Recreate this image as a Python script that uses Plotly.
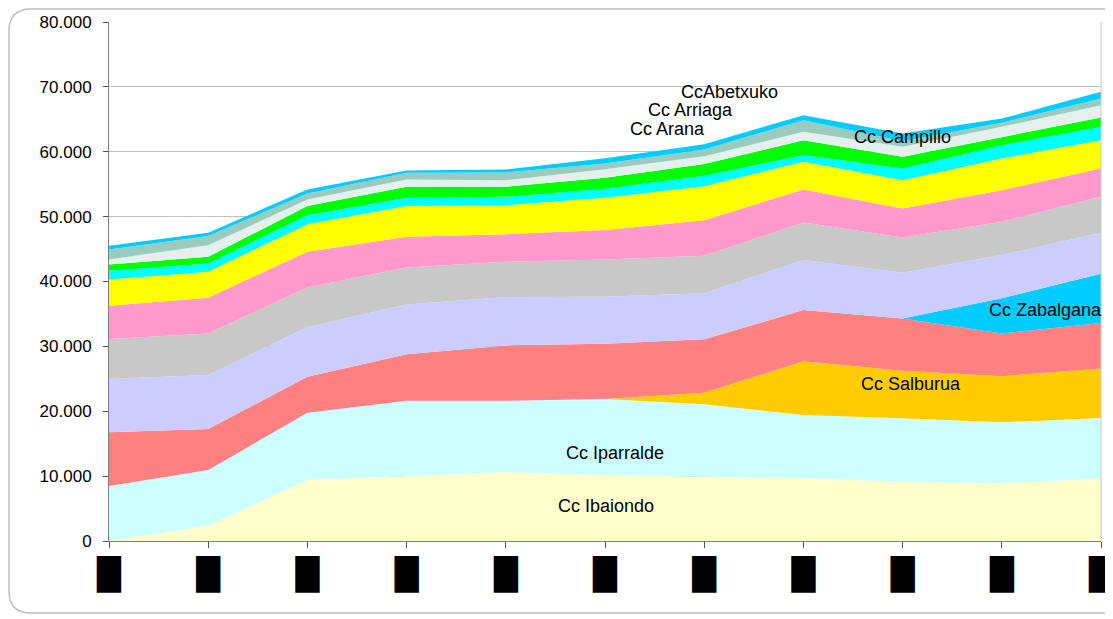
import plotly.graph_objects as go

# x categories (labels in the source are unreadable black blocks)
x_idx = list(range(11))
x_labels = ["█"] * 11

# series values (bottom to top of the stack)
ibaiondo  = [0, 2360, 9400, 10020, 10590, 10170, 9910, 9660, 9140, 8900, 9600]
iparralde = [8475, 8580, 10370, 11600, 11030, 11710, 11150, 9750, 9770, 9400, 9350]
salburua  = [0, 0, 0, 0, 0, 0, 1790, 8280, 7330, 7100, 7650]
rojo      = [8275, 6320, 5550, 7150, 8530, 8520, 8230, 7900, 8060, 6600, 7000]
zabalgana = [0, 0, 0, 0, 0, 0, 0, 0, 0, 5400, 7600]
lila      = [8210, 8320, 7610, 7700, 7450, 7240, 7090, 7710, 7040, 6670, 6300]
gris      = [6160, 6420, 6160, 5700, 5440, 5760, 5790, 5800, 5450, 5130, 5550]
rosa      = [5140, 5490, 5490, 4720, 4260, 4520, 5500, 5090, 4470, 4880, 4380]
amarillo  = [4060, 4010, 4260, 4730, 4470, 4980, 5240, 4250, 4360, 4890, 4360]
cian      = [1330, 1290, 1390, 1280, 1280, 1400, 1600, 1040, 1800, 2050, 2050]
verde     = [980, 1020, 1390, 1700, 1550, 1700, 1800, 2310, 1800, 1180, 1450]
campillo  = [770, 1790, 1030, 1130, 1020, 1300, 1220, 1280, 1540, 1640, 1890]
arana     = [1550, 1400, 920, 1020, 1190, 900, 1030, 1800, 840, 620, 1040]
abetxuko  = [550, 500, 620, 370, 460, 800, 820, 770, 1200, 660, 1030]

y_ticks = [0, 10000, 20000, 30000, 40000, 50000, 60000, 70000, 80000]
y_tick_text = ["0", "10.000", "20.000", "30.000", "40.000", "50.000", "60.000", "70.000", "80.000"]

series = [
    ("Cc Ibaiondo", ibaiondo, "#FFFFCC"),
    ("Cc Iparralde", iparralde, "#CCFFFF"),
    ("Cc Salburua", salburua, "#FFCC00"),
    ("Serie 4", rojo, "#FF8080"),
    ("Cc Zabalgana", zabalgana, "#00CCFF"),
    ("Serie 6", lila, "#CCCCFF"),
    ("Serie 7", gris, "#C8C8C8"),
    ("Serie 8", rosa, "#FF99CC"),
    ("Serie 9", amarillo, "#FFFF00"),
    ("Serie 10", cian, "#00FFFF"),
    ("Serie 11", verde, "#00FF00"),
    ("Cc Campillo", campillo, "#E4F0EE"),
    ("Cc Arana", arana, "#99CCBF"),
    ("CcAbetxuko", abetxuko, "#00CCFF"),
]

fig = go.Figure()
for name, vals, col in series:
    fig.add_trace(go.Scatter(
        x=x_idx, y=vals, name=name, mode="lines", stackgroup="one",
        line=dict(width=0, color=col), fillcolor=col, hoverinfo="name+y"))

labels = [
    ("CcAbetxuko", 6.25, 69200),
    ("Cc Arriaga", 5.86, 66400),
    ("Cc Arana", 5.63, 63500),
    ("Cc Campillo", 8.0, 62250),
    ("Cc Zabalgana", 9.44, 35600),
    ("Cc Salburua", 8.08, 24200),
    ("Cc Iparralde", 5.1, 13550),
    ("Cc Ibaiondo", 5.01, 5400),
]
for txt, xi, yv in labels:
    fig.add_annotation(x=xi, y=yv, xref="x", yref="y", text=txt, showarrow=False,
                       font=dict(family="Liberation Sans, Arial", size=18, color="#000000"))

# geometry of the plot area inside the figure (figure pixels)
PL, PT, PW, PH = 101, 14, 992, 519

def px(xp):
    return (xp - PL) / PW

def py(yp):
    return (PT + PH - yp) / PH

# outer rounded frame (decoration), figure pixel coords
L, T, R, B, r = 1, 1, 1140, 605, 22
path = (f"M {px(L+r)},{py(T)} L {px(R-r)},{py(T)} Q {px(R)},{py(T)} {px(R)},{py(T+r)} "
        f"L {px(R)},{py(B-r)} Q {px(R)},{py(B)} {px(R-r)},{py(B)} L {px(L+r)},{py(B)} "
        f"Q {px(L)},{py(B)} {px(L)},{py(B-r)} L {px(L)},{py(T+r)} Q {px(L)},{py(T)} {px(L+r)},{py(T)} Z")
fig.add_shape(type="path", path=path, xref="paper", yref="paper",
              line=dict(color="#BDBDBD", width=1.5), layer="below")
# right border of plot area
fig.add_shape(type="line", xref="paper", yref="paper", x0=1, x1=1, y0=0, y1=1,
              line=dict(color="#C8C8C8", width=1))

fig.update_layout(
    width=1113, height=619,
    margin=dict(l=PL, r=1113 - PL - PW, t=PT, b=619 - PT - PH, autoexpand=False),
    paper_bgcolor="white", plot_bgcolor="white",
    showlegend=False,
    font=dict(family="Liberation Sans, Arial", size=15, color="#000000"),
    xaxis=dict(
        range=[0, 10], tickmode="array", tickvals=x_idx, ticktext=x_labels,
        tickangle=0, ticks="outside", ticklen=6, tickcolor="#555555",
        showline=True, linecolor="#808080", linewidth=1, showgrid=False,
        zeroline=False, automargin=False, ticklabelstandoff=0,
        ticklabeloverflow="allow",
        tickfont=dict(family="DejaVu Sans", size=31, color="#000000"),
    ),
    yaxis=dict(
        range=[0, 80000], tickmode="array", tickvals=y_ticks, ticktext=y_tick_text,
        ticks="outside", ticklen=5, tickcolor="#555555",
        showline=True, linecolor="#808080", linewidth=1, automargin=False,
        showgrid=True, gridcolor="#C0C0C0", gridwidth=1, zeroline=False,
        ticklabelstandoff=8, ticklabeloverflow="allow",
        tickfont=dict(family="Liberation Sans, Arial", size=17, color="#000000"),
        layer="below traces",
    ),
)

fig.write_html("out.html")
